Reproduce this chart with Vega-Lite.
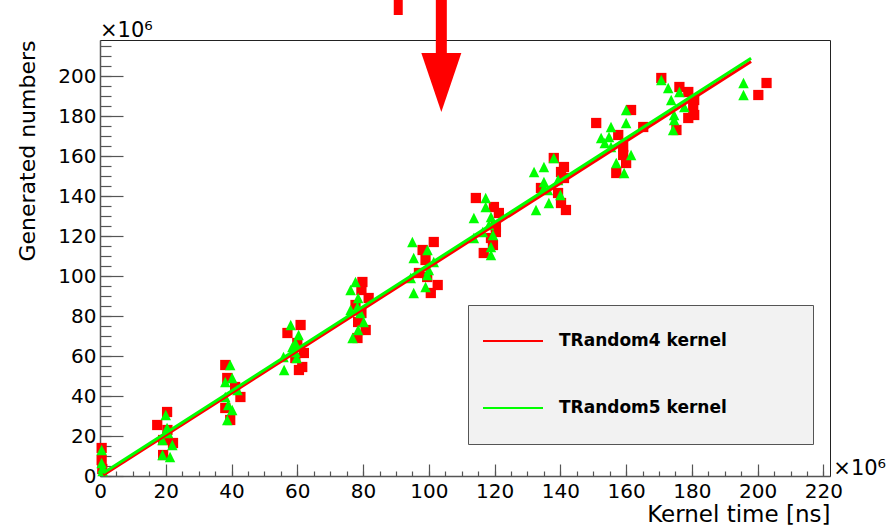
{
  "$schema": "https://vega.github.io/schema/vega-lite/v6.json",
  "width": 730,
  "height": 436,
  "autosize": {"type": "none"},
  "padding": {"left": 100, "top": 40, "right": 61, "bottom": 51},
  "background": "white",
  "config": {
    "view": {"stroke": "#222", "strokeWidth": 1},
    "font": "DejaVu Sans",
    "axis": {
      "grid": false,
      "labelFont": "DejaVu Sans",
      "labelFontSize": 20,
      "labelColor": "#000",
      "titleFont": "DejaVu Sans",
      "titleFontWeight": "normal",
      "titleColor": "#000",
      "domainColor": "#555",
      "domainWidth": 1.5,
      "tickColor": "#555",
      "tickWidth": 1.2,
      "labelFlush": false,
      "labelOverlap": false
    },
    "legend": {
      "orient": "none",
      "legendX": 368,
      "legendY": 265,
      "symbolType": "stroke",
      "symbolSize": 3600,
      "symbolStrokeWidth": 2,
      "symbolOffset": 8,
      "labelFont": "DejaVu Sans",
      "labelFontWeight": "bold",
      "labelFontSize": 17,
      "labelColor": "#000",
      "labelOffset": 15,
      "labelLimit": 500,
      "clipHeight": 60,
      "fillColor": "#f2f2f2",
      "strokeColor": "#555",
      "padding": 6,
      "rowPadding": 7
    }
  },
  "datasets": {
    "pts": [
      {"s": "TRandom4 kernel", "x": 0.5, "y": 14},
      {"s": "TRandom4 kernel", "x": 0.5, "y": 8},
      {"s": "TRandom4 kernel", "x": 0.7, "y": 3.5},
      {"s": "TRandom4 kernel", "x": 20.4, "y": 32},
      {"s": "TRandom4 kernel", "x": 17.4, "y": 25.5},
      {"s": "TRandom4 kernel", "x": 19.2, "y": 18},
      {"s": "TRandom4 kernel", "x": 19.2, "y": 10.5},
      {"s": "TRandom4 kernel", "x": 22.2, "y": 16.5},
      {"s": "TRandom4 kernel", "x": 20.5, "y": 23},
      {"s": "TRandom4 kernel", "x": 38.1, "y": 55.5},
      {"s": "TRandom4 kernel", "x": 38.7, "y": 49},
      {"s": "TRandom4 kernel", "x": 41.1, "y": 44.5},
      {"s": "TRandom4 kernel", "x": 42.7, "y": 39.5},
      {"s": "TRandom4 kernel", "x": 38.1, "y": 34},
      {"s": "TRandom4 kernel", "x": 39.6, "y": 28},
      {"s": "TRandom4 kernel", "x": 61, "y": 75.5},
      {"s": "TRandom4 kernel", "x": 57, "y": 71.5},
      {"s": "TRandom4 kernel", "x": 62, "y": 61.5},
      {"s": "TRandom4 kernel", "x": 60, "y": 66.5},
      {"s": "TRandom4 kernel", "x": 59.4, "y": 59},
      {"s": "TRandom4 kernel", "x": 60.5, "y": 53},
      {"s": "TRandom4 kernel", "x": 61.5, "y": 54.5},
      {"s": "TRandom4 kernel", "x": 79.8, "y": 97},
      {"s": "TRandom4 kernel", "x": 79.5, "y": 93},
      {"s": "TRandom4 kernel", "x": 81.7, "y": 89},
      {"s": "TRandom4 kernel", "x": 77.7, "y": 85.5},
      {"s": "TRandom4 kernel", "x": 79.5, "y": 81.5},
      {"s": "TRandom4 kernel", "x": 78.5, "y": 77},
      {"s": "TRandom4 kernel", "x": 80.8, "y": 73},
      {"s": "TRandom4 kernel", "x": 78.3, "y": 69},
      {"s": "TRandom4 kernel", "x": 101.5, "y": 117},
      {"s": "TRandom4 kernel", "x": 98.1, "y": 113},
      {"s": "TRandom4 kernel", "x": 99, "y": 108},
      {"s": "TRandom4 kernel", "x": 97, "y": 101.5},
      {"s": "TRandom4 kernel", "x": 102.7, "y": 95.5},
      {"s": "TRandom4 kernel", "x": 100.6, "y": 91.5},
      {"s": "TRandom4 kernel", "x": 99.5, "y": 99.5},
      {"s": "TRandom4 kernel", "x": 114.3, "y": 139},
      {"s": "TRandom4 kernel", "x": 119.8, "y": 134.5},
      {"s": "TRandom4 kernel", "x": 121.3, "y": 131.5},
      {"s": "TRandom4 kernel", "x": 120.4, "y": 124.5},
      {"s": "TRandom4 kernel", "x": 120.4, "y": 122},
      {"s": "TRandom4 kernel", "x": 118.9, "y": 119},
      {"s": "TRandom4 kernel", "x": 119.5, "y": 115.5},
      {"s": "TRandom4 kernel", "x": 116.7, "y": 111.5},
      {"s": "TRandom4 kernel", "x": 138, "y": 159},
      {"s": "TRandom4 kernel", "x": 141.1, "y": 154.5},
      {"s": "TRandom4 kernel", "x": 140.2, "y": 152},
      {"s": "TRandom4 kernel", "x": 141.1, "y": 149},
      {"s": "TRandom4 kernel", "x": 134.1, "y": 144},
      {"s": "TRandom4 kernel", "x": 139.3, "y": 141.5},
      {"s": "TRandom4 kernel", "x": 140.2, "y": 136.5},
      {"s": "TRandom4 kernel", "x": 141.7, "y": 133},
      {"s": "TRandom4 kernel", "x": 150.9, "y": 176.5},
      {"s": "TRandom4 kernel", "x": 161.5, "y": 183},
      {"s": "TRandom4 kernel", "x": 165.2, "y": 174.5},
      {"s": "TRandom4 kernel", "x": 157.6, "y": 170.5},
      {"s": "TRandom4 kernel", "x": 159.1, "y": 164.5},
      {"s": "TRandom4 kernel", "x": 159.1, "y": 160.5},
      {"s": "TRandom4 kernel", "x": 160, "y": 156.5},
      {"s": "TRandom4 kernel", "x": 157, "y": 151.5},
      {"s": "TRandom4 kernel", "x": 170.7, "y": 199},
      {"s": "TRandom4 kernel", "x": 176.2, "y": 194.5},
      {"s": "TRandom4 kernel", "x": 178.9, "y": 192},
      {"s": "TRandom4 kernel", "x": 180.7, "y": 188},
      {"s": "TRandom4 kernel", "x": 180.4, "y": 184},
      {"s": "TRandom4 kernel", "x": 180.7, "y": 180.5},
      {"s": "TRandom4 kernel", "x": 178.9, "y": 179},
      {"s": "TRandom4 kernel", "x": 175.3, "y": 173},
      {"s": "TRandom4 kernel", "x": 202.7, "y": 196.5},
      {"s": "TRandom4 kernel", "x": 200.2, "y": 190.5},
      {"s": "TRandom5 kernel", "x": 0.5, "y": 13},
      {"s": "TRandom5 kernel", "x": 0.5, "y": 6.5},
      {"s": "TRandom5 kernel", "x": 0.8, "y": 4},
      {"s": "TRandom5 kernel", "x": 0.8, "y": 2.5},
      {"s": "TRandom5 kernel", "x": 20, "y": 30.5},
      {"s": "TRandom5 kernel", "x": 20.4, "y": 24},
      {"s": "TRandom5 kernel", "x": 19, "y": 18},
      {"s": "TRandom5 kernel", "x": 22, "y": 15.5},
      {"s": "TRandom5 kernel", "x": 19, "y": 10.5},
      {"s": "TRandom5 kernel", "x": 21.3, "y": 9.5},
      {"s": "TRandom5 kernel", "x": 20.7, "y": 21.5},
      {"s": "TRandom5 kernel", "x": 39.6, "y": 55.5},
      {"s": "TRandom5 kernel", "x": 38.1, "y": 47},
      {"s": "TRandom5 kernel", "x": 40.2, "y": 49},
      {"s": "TRandom5 kernel", "x": 41.8, "y": 43},
      {"s": "TRandom5 kernel", "x": 38.1, "y": 39.5},
      {"s": "TRandom5 kernel", "x": 39, "y": 35.5},
      {"s": "TRandom5 kernel", "x": 38.7, "y": 28},
      {"s": "TRandom5 kernel", "x": 40.2, "y": 33},
      {"s": "TRandom5 kernel", "x": 58, "y": 75.5},
      {"s": "TRandom5 kernel", "x": 60.4, "y": 70.5},
      {"s": "TRandom5 kernel", "x": 59.4, "y": 66.5},
      {"s": "TRandom5 kernel", "x": 59.4, "y": 62},
      {"s": "TRandom5 kernel", "x": 55.8, "y": 59.5},
      {"s": "TRandom5 kernel", "x": 59.8, "y": 59},
      {"s": "TRandom5 kernel", "x": 56, "y": 53},
      {"s": "TRandom5 kernel", "x": 58.5, "y": 64.5},
      {"s": "TRandom5 kernel", "x": 77.7, "y": 97},
      {"s": "TRandom5 kernel", "x": 76.2, "y": 93},
      {"s": "TRandom5 kernel", "x": 78.5, "y": 89},
      {"s": "TRandom5 kernel", "x": 76.2, "y": 83},
      {"s": "TRandom5 kernel", "x": 79.2, "y": 81.5},
      {"s": "TRandom5 kernel", "x": 80.2, "y": 77},
      {"s": "TRandom5 kernel", "x": 78.5, "y": 73},
      {"s": "TRandom5 kernel", "x": 76.8, "y": 69},
      {"s": "TRandom5 kernel", "x": 78.3, "y": 84.5},
      {"s": "TRandom5 kernel", "x": 95, "y": 117},
      {"s": "TRandom5 kernel", "x": 99.6, "y": 113},
      {"s": "TRandom5 kernel", "x": 95.4, "y": 109},
      {"s": "TRandom5 kernel", "x": 101.5, "y": 107},
      {"s": "TRandom5 kernel", "x": 100, "y": 103},
      {"s": "TRandom5 kernel", "x": 94.5, "y": 99},
      {"s": "TRandom5 kernel", "x": 99.5, "y": 100.5},
      {"s": "TRandom5 kernel", "x": 99, "y": 94.5},
      {"s": "TRandom5 kernel", "x": 95.4, "y": 91.5},
      {"s": "TRandom5 kernel", "x": 117.3, "y": 139},
      {"s": "TRandom5 kernel", "x": 117.3, "y": 134.5},
      {"s": "TRandom5 kernel", "x": 113.7, "y": 129},
      {"s": "TRandom5 kernel", "x": 118.9, "y": 129.5},
      {"s": "TRandom5 kernel", "x": 118.3, "y": 125.5},
      {"s": "TRandom5 kernel", "x": 113.7, "y": 119},
      {"s": "TRandom5 kernel", "x": 119.5, "y": 120.5},
      {"s": "TRandom5 kernel", "x": 118.9, "y": 114.5},
      {"s": "TRandom5 kernel", "x": 118.9, "y": 110.5},
      {"s": "TRandom5 kernel", "x": 116.4, "y": 122},
      {"s": "TRandom5 kernel", "x": 138, "y": 159},
      {"s": "TRandom5 kernel", "x": 132, "y": 152},
      {"s": "TRandom5 kernel", "x": 135, "y": 154.5},
      {"s": "TRandom5 kernel", "x": 135, "y": 147},
      {"s": "TRandom5 kernel", "x": 139.3, "y": 148},
      {"s": "TRandom5 kernel", "x": 136.2, "y": 143},
      {"s": "TRandom5 kernel", "x": 140, "y": 140.5},
      {"s": "TRandom5 kernel", "x": 136.5, "y": 136.5},
      {"s": "TRandom5 kernel", "x": 132.6, "y": 133},
      {"s": "TRandom5 kernel", "x": 135, "y": 144},
      {"s": "TRandom5 kernel", "x": 160, "y": 183},
      {"s": "TRandom5 kernel", "x": 160, "y": 176.5},
      {"s": "TRandom5 kernel", "x": 155.4, "y": 174.5},
      {"s": "TRandom5 kernel", "x": 152.4, "y": 169},
      {"s": "TRandom5 kernel", "x": 154.8, "y": 169.5},
      {"s": "TRandom5 kernel", "x": 155.4, "y": 164.5},
      {"s": "TRandom5 kernel", "x": 161.5, "y": 160.5},
      {"s": "TRandom5 kernel", "x": 157, "y": 156.5},
      {"s": "TRandom5 kernel", "x": 159.4, "y": 151.5},
      {"s": "TRandom5 kernel", "x": 153.5, "y": 166.5},
      {"s": "TRandom5 kernel", "x": 170.7, "y": 198},
      {"s": "TRandom5 kernel", "x": 172.8, "y": 194},
      {"s": "TRandom5 kernel", "x": 176.2, "y": 192},
      {"s": "TRandom5 kernel", "x": 173.7, "y": 188},
      {"s": "TRandom5 kernel", "x": 177.7, "y": 184.5},
      {"s": "TRandom5 kernel", "x": 174.6, "y": 180.5},
      {"s": "TRandom5 kernel", "x": 174.6, "y": 178},
      {"s": "TRandom5 kernel", "x": 174.3, "y": 173},
      {"s": "TRandom5 kernel", "x": 195.7, "y": 196.5},
      {"s": "TRandom5 kernel", "x": 195.7, "y": 190.5}
    ],
    "fit": [
      {"s": "TRandom4 kernel", "x": 1, "y": 0.5},
      {"s": "TRandom4 kernel", "x": 198, "y": 207.3},
      {"s": "TRandom5 kernel", "x": 1, "y": 1.5},
      {"s": "TRandom5 kernel", "x": 198, "y": 208.9}
    ],
    "shafts": [
      {"x": 103.8, "y": 238, "y2": 210.5, "w": "wide"},
      {"x": 90.7, "y": 238, "y2": 230.5, "w": "narrow"}
    ],
    "heads": [
      {"x": 103.8, "y": 196.75}
    ],
    "labels": [
      {"t": "×10⁶", "x": 0, "y": 219.5},
      {"t": "×10⁶", "x": 223, "y": 0.5}
    ]
  },
  "resolve": {"axis": {"x": "independent", "y": "independent"}},
  "layer": [
    {
      "data": {"name": "pts"},
      "mark": {"type": "point", "opacity": 0},
      "encoding": {
        "x": {"field": "x", "type": "quantitative",
              "scale": {"domain": [0, 222], "nice": false, "zero": false},
              "axis": {"orient": "bottom", "values": [0,5,10,15,20,25,30,35,40,45,50,55,60,65,70,75,80,85,90,95,100,105,110,115,120,125,130,135,140,145,150,155,160,165,170,175,180,185,190,195,200,205,210,215,220],
                       "tickSize": -5, "labels": false, "domain": false, "title": null}},
        "y": {"field": "y", "type": "quantitative",
              "scale": {"domain": [0, 218], "nice": false, "zero": false},
              "axis": {"orient": "left", "values": [0,5,10,15,20,25,30,35,40,45,50,55,60,65,70,75,80,85,90,95,100,105,110,115,120,125,130,135,140,145,150,155,160,165,170,175,180,185,190,195,200,205,210,215],
                       "tickSize": -11, "labels": false, "domain": false, "title": null}}
      }
    },
    {
      "data": {"name": "pts"},
      "transform": [{"filter": "datum.s === 'TRandom4 kernel'"}],
      "mark": {"type": "point", "shape": "square", "filled": true, "size": 105, "opacity": 1, "color": "#ff0000", "strokeWidth": 0},
      "encoding": {
        "x": {"field": "x", "type": "quantitative",
              "axis": {"orient": "bottom", "values": [0,20,40,60,80,100,120,140,160,180,200,220], "format": "d",
                       "tickSize": -12, "labelPadding": 17, "title": "Kernel time [ns]", "titleFontSize": 23,
                       "titleAnchor": "end", "titlePadding": 2}},
        "y": {"field": "y", "type": "quantitative",
              "axis": {"orient": "left", "values": [0,20,40,60,80,100,120,140,160,180,200], "format": "d",
                       "tickSize": -23, "labelPadding": 27, "title": "Generated numbers", "titleFontSize": 22,
                       "titleAnchor": "end", "titlePadding": 18}}
      }
    },
    {
      "data": {"name": "pts"},
      "transform": [{"filter": "datum.s === 'TRandom5 kernel'"}],
      "mark": {"type": "point", "shape": "M0,-1L1,1L-1,1Z", "filled": true, "size": 110, "opacity": 1, "color": "#00ff00", "strokeWidth": 0},
      "encoding": {
        "x": {"field": "x", "type": "quantitative", "axis": null},
        "y": {"field": "y", "type": "quantitative", "axis": null}
      }
    },
    {
      "data": {"name": "fit"},
      "mark": {"type": "line", "strokeWidth": 3},
      "encoding": {
        "x": {"field": "x", "type": "quantitative", "axis": null},
        "y": {"field": "y", "type": "quantitative", "axis": null},
        "color": {"field": "s", "type": "nominal",
                  "scale": {"domain": ["TRandom4 kernel", "TRandom5 kernel"], "range": ["#ff0000", "#00ff00"]},
                  "legend": {"title": null,
                             "labelExpr": "datum.label + '\u2800\u2800\u2800\u2800\u2800\u2800'"}}
      }
    },
    {
      "data": {"name": "shafts"},
      "mark": {"type": "rule", "color": "#ff0000", "clip": false, "strokeCap": "butt"},
      "encoding": {
        "x": {"field": "x", "type": "quantitative", "axis": null},
        "y": {"field": "y", "type": "quantitative", "axis": null},
        "y2": {"field": "y2"},
        "strokeWidth": {"field": "w", "type": "nominal", "scale": {"domain": ["wide", "narrow"], "range": [11, 9]}, "legend": null}
      }
    },
    {
      "data": {"name": "heads"},
      "mark": {"type": "point", "shape": "M-0.678,-1L0.678,-1L0,1Z", "filled": true, "size": 3481, "opacity": 1, "color": "#ff0000", "strokeWidth": 0, "clip": false},
      "encoding": {
        "x": {"field": "x", "type": "quantitative", "axis": null},
        "y": {"field": "y", "type": "quantitative", "axis": null}
      }
    },
    {
      "data": {"name": "labels"},
      "mark": {"type": "text", "align": "left", "baseline": "alphabetic", "fontSize": 21, "font": "DejaVu Sans", "color": "#000", "clip": false},
      "encoding": {
        "x": {"field": "x", "type": "quantitative", "axis": null},
        "y": {"field": "y", "type": "quantitative", "axis": null},
        "text": {"field": "t"}
      }
    }
  ]
}
